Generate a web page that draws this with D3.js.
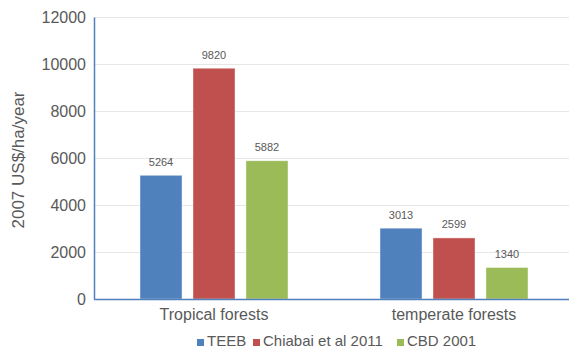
<!DOCTYPE html>
<html>
<head>
<meta charset="utf-8">
<script src="https://cdn.jsdelivr.net/npm/d3@7"></script>
<style>
  html, body { margin: 0; padding: 0; background: #fff; }
  svg text { font-family: "Liberation Sans", Arial, sans-serif; fill: #595959; }
</style>
</head>
<body>
<svg id="chart" width="569" height="348"></svg>
<script>
// Forest ecosystem service values, 2007 US$/ha/year
const categories = ["Tropical forests", "temperate forests"];
const seriesNames = ["TEEB", "Chiabai et al 2011", "CBD 2001"];
const teeb = [5264, 3013];
const chiabai = [9820, 2599];
const cbd = [5882, 1340];
const yTicks = [0, 2000, 4000, 6000, 8000, 10000, 12000];
const colors = ["#4f81bd", "#c0504d", "#9bbb59"];

const seriesValues = [teeb, chiabai, cbd];
const rows = categories.map((c, i) => ({
  category: c,
  values: seriesNames.map((s, j) => ({ series: s, value: seriesValues[j][i], idx: j }))
}));

const svg = d3.select("#chart");
const plotLeft = 94, plotRight = 574, plotTop = 17, plotBottom = 299;

const x0 = d3.scaleBand().domain(categories).range([plotLeft, plotRight]).padding(0);
const groupW = 148;
const x1 = d3.scaleBand().domain(seriesNames).range([0, groupW]).paddingInner(0.207).paddingOuter(0);
const y = d3.scaleLinear().domain([0, 12000]).range([plotBottom, plotTop]);

// gridlines
svg.append("g")
  .selectAll("line")
  .data(yTicks.filter(t => t > 0))
  .join("line")
  .attr("x1", plotLeft).attr("x2", 569)
  .attr("y1", d => y(d) + 0.5).attr("y2", d => y(d) + 0.5)
  .attr("stroke", "#e6e6e6").attr("stroke-width", 1);

// y axis
const yAxis = svg.append("g")
  .attr("transform", `translate(${plotLeft},0)`)
  .call(d3.axisLeft(y).tickValues(yTicks).tickSize(0).tickPadding(8).tickFormat(d3.format("d")));
yAxis.select(".domain").attr("stroke", "#4f81bd").attr("stroke-width", 1.5);
yAxis.selectAll("text").attr("font-size", 16).style("fill", "#595959");

// bars
const groups = svg.append("g")
  .selectAll("g")
  .data(rows)
  .join("g")
  .attr("transform", d => `translate(${x0(d.category) + (x0.bandwidth() - groupW) / 2},0)`);

groups.selectAll("rect")
  .data(d => d.values)
  .join("rect")
  .attr("x", d => x1(d.series))
  .attr("width", x1.bandwidth())
  .attr("y", d => y(d.value))
  .attr("height", d => y(0) - y(d.value))
  .attr("fill", d => colors[d.idx])
  .attr("stroke", "#ffffff").attr("stroke-opacity", 0.5).attr("stroke-width", 0.8);

groups.selectAll("text.val")
  .data(d => d.values)
  .join("text")
  .attr("class", "val")
  .attr("x", d => x1(d.series) + x1.bandwidth() / 2)
  .attr("y", d => y(d.value) - 9.5)
  .attr("text-anchor", "middle")
  .attr("font-size", 11)
  .text(d => d.value);

// x axis
const xAxis = svg.append("g")
  .attr("transform", `translate(0,${plotBottom})`)
  .call(d3.axisBottom(x0).tickSize(0).tickPadding(10));
xAxis.select(".domain").remove();
xAxis.selectAll("text").attr("font-size", 16).style("fill", "#595959");
svg.append("line")
  .attr("x1", plotLeft).attr("x2", 569)
  .attr("y1", plotBottom + 0.5).attr("y2", plotBottom + 0.5)
  .attr("stroke", "#4f81bd").attr("stroke-width", 1.5);

// y title
svg.append("text")
  .attr("transform", `translate(24,160) rotate(-90)`)
  .attr("text-anchor", "middle")
  .attr("font-size", 17)
  .text("2007 US$/ha/year");

// legend
const legendX = [197, 253, 397];
const legend = svg.append("g")
  .selectAll("g")
  .data(seriesNames)
  .join("g")
  .attr("transform", (d, i) => `translate(${legendX[i]},346)`);
legend.append("rect")
  .attr("x", 0).attr("y", -7).attr("width", 7).attr("height", 7)
  .attr("fill", (d, i) => colors[i]);
legend.append("text")
  .attr("x", 10).attr("y", 0)
  .attr("font-size", 15)
  .text(d => d);
</script>
</body>
</html>
